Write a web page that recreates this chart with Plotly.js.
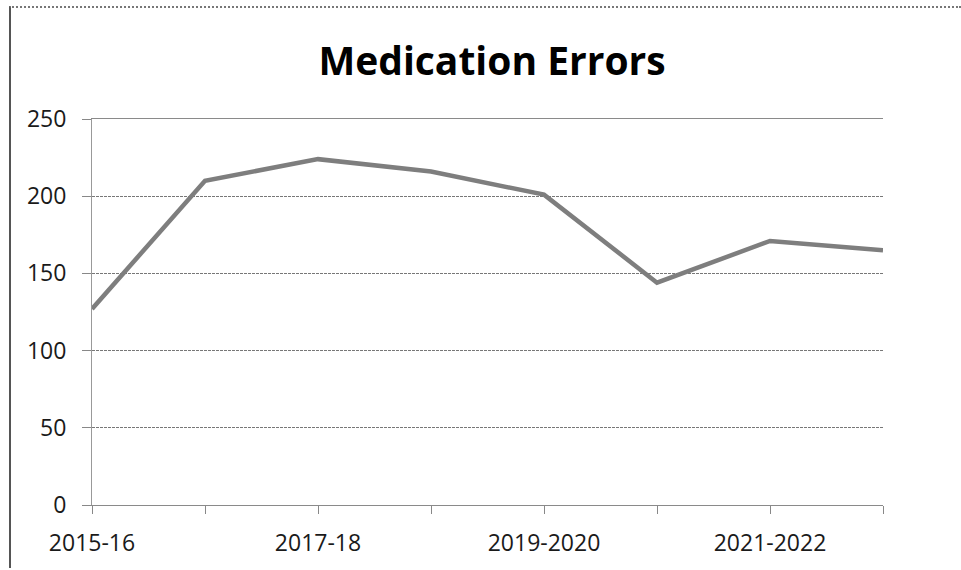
<!DOCTYPE html>
<html>
<head>
<meta charset="utf-8">
<script src="https://cdn.plot.ly/plotly-3.0.1.min.js"></script>
<style>
  html, body { margin: 0; padding: 0; background: #fff; }
  #wrap { position: relative; width: 961px; height: 570px; }
  #chart { width: 961px; height: 570px; }
  #frame { position: absolute; left: 9px; top: 6px; width: 952px; height: 562px;
           border-top: 2px dotted #777; border-left: 2px solid #555; pointer-events: none; box-sizing: border-box; }
</style>
</head>
<body>
<div id="wrap">
  <div id="chart"></div>
  <div id="frame"></div>
</div>
<script>
const categories = ['2015-16', '2016-17', '2017-18', '2018-19', '2019-2020', '2020-2021', '2021-2022', '2022-2023'];
const errors = [127, 210, 224, 216, 201, 144, 171, 165];
const tickLabels = ['2015-16', '', '2017-18', '', '2019-2020', '', '2021-2022', ''];
const yTicks = [0, 50, 100, 150, 200, 250];

const trace = {
  x: categories,
  y: errors,
  type: 'scatter',
  mode: 'lines',
  line: { color: '#7e7e7e', width: 4.5 },
  hoverinfo: 'x+y'
};

const layout = {
  width: 961,
  height: 570,
  paper_bgcolor: '#ffffff',
  plot_bgcolor: '#ffffff',
  margin: { l: 92, r: 78, t: 119, b: 65 },
  showlegend: false,
  font: { family: 'Open Sans, Liberation Sans, sans-serif', color: '#1a1a1a', size: 23 },
  title: {
    text: '<b>Medication Errors</b>',
    font: { family: 'Open Sans, sans-serif', size: 39, color: '#000' },
    x: 0.512, xanchor: 'center',
    y: 1 - 61 / 570, yanchor: 'middle', yref: 'container'
  },
  xaxis: {
    type: 'category',
    range: [0, categories.length - 1],
    tickmode: 'array',
    tickvals: categories,
    ticktext: tickLabels,
    ticks: 'outside',
    ticklen: 8,
    tickcolor: '#888',
    tickwidth: 1,
    showline: true,
    linecolor: '#8a8a8a',
    linewidth: 1,
    mirror: true,
    showgrid: false,
    zeroline: false,
    ticklabelstandoff: 9,
    tickfont: { size: 23, color: '#1a1a1a' }
  },
  yaxis: {
    range: [0, 250],
    tickmode: 'array',
    tickvals: yTicks,
    ticks: 'outside',
    ticklen: 9,
    tickcolor: '#888',
    tickwidth: 1,
    showline: true,
    linecolor: '#999',
    linewidth: 1,
    showgrid: true,
    gridcolor: '#777',
    gridwidth: 1,
    griddash: '3px,1px',
    zeroline: false,
    ticklabelstandoff: 11,
    tickfont: { size: 23, color: '#1a1a1a' }
  }
};

Plotly.newPlot('chart', [trace], layout, { displayModeBar: false, staticPlot: true });
</script>
</body>
</html>
